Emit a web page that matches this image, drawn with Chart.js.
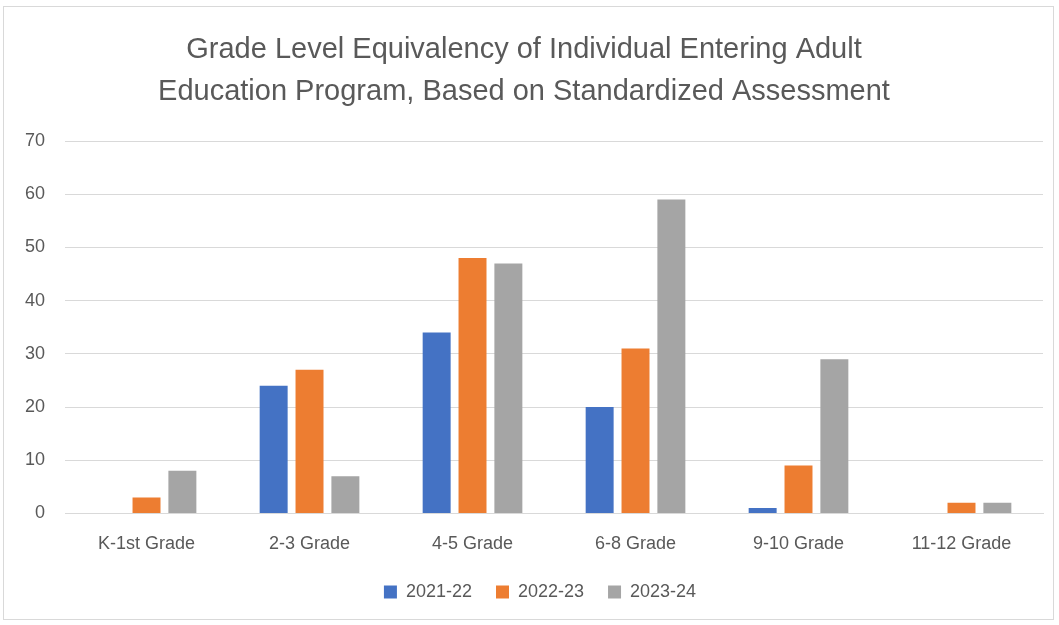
<!DOCTYPE html>
<html>
<head>
<meta charset="utf-8">
<script src="https://cdn.jsdelivr.net/npm/chart.js@4"></script>
<style>
  html, body { margin: 0; padding: 0; background: #fff; }
  #wrap {
    position: absolute; left: 3px; top: 6px;
    width: 1051px; height: 614px;
    border: 1px solid #d9d9d9; box-sizing: border-box;
  }
</style>
</head>
<body>
<div id="wrap"><canvas id="chart"></canvas></div>
<script>
// categorías y series
const categorias = ['K-1st Grade', '2-3 Grade', '4-5 Grade', '6-8 Grade', '9-10 Grade', '11-12 Grade'];
const serie2122 = [0, 24, 34, 20, 1, 0];
const serie2223 = [3, 27, 48, 31, 9, 2];
const serie2324 = [8, 7, 47, 59, 29, 2];

const gris = '#595959';
const fuente = "'Liberation Sans', Arial, sans-serif";

// desplazar la leyenda y abrir el hueco entre elementos sin cambiar su alto
const moverLeyenda = {
  id: 'moverLeyenda',
  afterLayout(chart) {
    const lg = chart.legend;
    const centro = (chart.chartArea.left + chart.chartArea.right) / 2 - 26;
    const dx = centro - (lg.left + lg.right) / 2;
    lg.left += dx;
    lg.right += dx;
    lg.top -= 8;
    lg.bottom -= 8;
    lg.options.labels.padding = 24;
  }
};

new Chart(document.getElementById('chart'), {
  type: 'bar',
  data: {
    labels: categorias,
    datasets: [
      { label: '2021-22', data: serie2122, backgroundColor: '#4472c4' },
      { label: '2022-23', data: serie2223, backgroundColor: '#ed7d31' },
      { label: '2023-24', data: serie2324, backgroundColor: '#a5a5a5' }
    ]
  },
  plugins: [moverLeyenda],
  options: {
    responsive: true,
    maintainAspectRatio: false,
    animation: false,
    categoryPercentage: 0.66,
    barPercentage: 0.78,
    layout: { padding: { left: 1, right: 10, top: 10, bottom: 8 } },
    plugins: {
      title: {
        display: true,
        text: ['Grade Level Equivalency of Individual Entering Adult',
               'Education Program, Based on Standardized Assessment'],
        color: gris,
        font: { family: fuente, size: 29, weight: 'normal', lineHeight: 1.45 },
        padding: { top: 12, bottom: 28 }
      },
      legend: {
        position: 'bottom',
        labels: {
          color: gris,
          font: { family: fuente, size: 18 },
          boxWidth: 13,
          boxHeight: 13,
          padding: 16
        }
      },
      tooltip: { enabled: false }
    },
    scales: {
      x: {
        grid: { display: false },
        border: { color: '#d9d9d9' },
        ticks: { color: gris, font: { family: fuente, size: 18 }, padding: 12 }
      },
      y: {
        min: 0,
        max: 70,
        ticks: { stepSize: 10, color: gris, font: { family: fuente, size: 18 }, padding: 20 },
        grid: { color: '#d9d9d9', drawTicks: false },
        border: { display: false }
      }
    }
  }
});
</script>
</body>
</html>
